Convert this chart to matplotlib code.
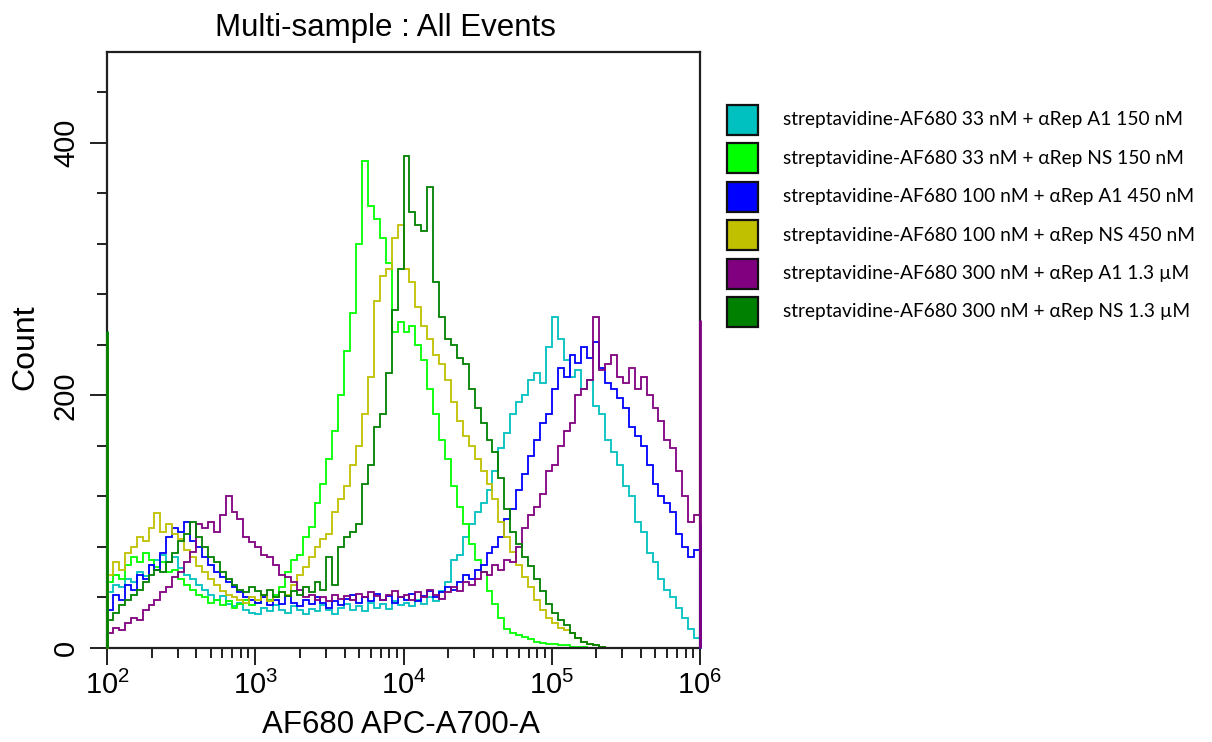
import numpy as np
import matplotlib
matplotlib.use("Agg")
import matplotlib.pyplot as plt
from matplotlib.ticker import FixedLocator, MultipleLocator, FuncFormatter, LogLocator, NullFormatter
from matplotlib.patches import Rectangle

plt.rcParams['font.family'] = ['Liberation Sans', 'DejaVu Sans']
plt.rcParams['mathtext.fontset'] = 'custom'
plt.rcParams['mathtext.rm'] = 'Liberation Sans'
plt.rcParams['mathtext.it'] = 'Liberation Sans'
plt.rcParams['mathtext.default'] = 'regular'

# ---------------- data ----------------
title = "Multi-sample : All Events"
x_label = "AF680 APC-A700-A"
y_label = "Count"

labels = [
    "streptavidine-AF680 33 nM + \u03b1Rep A1 150 nM",
    "streptavidine-AF680 33 nM + \u03b1Rep NS 150 nM",
    "streptavidine-AF680 100 nM + \u03b1Rep A1 450 nM",
    "streptavidine-AF680 100 nM + \u03b1Rep NS 450 nM",
    "streptavidine-AF680 300 nM + \u03b1Rep A1 1.3 \u00b5M",
    "streptavidine-AF680 300 nM + \u03b1Rep NS 1.3 \u00b5M",
]
colors = ["#00c0c0", "#00ff00", "#0000ff", "#c0c000", "#800080", "#008000"]

# histogram counts, 25 bins per decade from 1e2 to 1e6
cyan_a1_33 = [44, 50, 48, 55, 52, 60, 57, 66, 70, 74, 68, 72, 63, 58, 55, 50, 46, 42, 38, 41, 35, 33, 36, 30, 28,
              27, 32, 29, 34, 30, 28, 33, 30, 27, 31, 29, 34, 30, 27, 32, 35, 30, 33, 29, 36, 32, 35, 31, 37, 34,
              36, 33, 38, 35, 40, 37, 45, 52, 70, 74, 88, 98, 108, 115, 125, 140, 158, 170, 185, 195, 200, 212, 218, 210, 238,
              262, 245, 228, 215, 220, 205, 212, 192, 185, 165, 155, 145, 128, 120, 100, 92, 75, 68, 55, 46, 40, 32, 24, 15, 8]
lime_ns_33 = [52, 58, 55, 66, 72, 68, 75, 70, 64, 68, 60, 62, 55, 50, 46, 42, 40, 36, 38, 34, 37, 32, 35, 38, 34,
              36, 40, 38, 42, 48, 60, 70, 74, 88, 96, 115, 130, 150, 172, 200, 235, 265, 320, 386, 350, 340, 325, 305, 250, 258,
              250, 255, 240, 228, 205, 185, 165, 150, 128, 112, 98, 82, 70, 60, 45, 35, 24, 15, 12, 10, 9, 7, 5, 4, 3,
              3, 2, 2, 1, 1, 1, 0, 0, 0, 0, 0, 0, 0, 0, 0, 0, 0, 0, 0, 0, 0, 0, 0, 0, 0]
blue_a1_100 = [30, 42, 38, 50, 46, 58, 55, 66, 62, 75, 88, 95, 92, 100, 85, 80, 72, 66, 60, 56, 52, 48, 44, 40, 38,
               36, 40, 34, 38, 35, 41, 36, 33, 38, 35, 40, 36, 32, 37, 34, 39, 42, 36, 40, 37, 43, 38, 41, 36, 40,
               38, 43, 37, 41, 45, 40, 44, 48, 46, 52, 58, 55, 62, 66, 75, 80, 88, 102, 110, 125, 138, 152, 165, 178, 185,
               205, 222, 215, 232, 226, 238, 230, 242, 222, 210, 205, 198, 190, 175, 168, 160, 145, 130, 120, 115, 108, 90, 80, 72, 78]
yellow_ns_100 = [58, 68, 62, 75, 80, 88, 85, 95, 107, 92, 98, 90, 86, 78, 72, 65, 60, 55, 50, 45, 42, 40, 38, 36, 40,
                 38, 42, 37, 40, 44, 42, 50, 58, 64, 72, 80, 86, 90, 108, 118, 128, 145, 160, 185, 215, 275, 295, 300, 325, 335,
                 300, 290, 270, 255, 245, 232, 225, 212, 195, 180, 168, 160, 150, 140, 130, 118, 100, 88, 76, 66, 56, 48, 38, 30, 24,
                 20, 16, 14, 12, 8, 5, 3, 2, 1, 0, 0, 0, 0, 0, 0, 0, 0, 0, 0, 0, 0, 0, 0, 0, 0]
purple_a1_300 = [12, 16, 14, 20, 24, 22, 30, 34, 38, 44, 48, 56, 60, 68, 76, 98, 95, 100, 92, 105, 120, 108, 102, 88, 84,
                 80, 74, 72, 66, 58, 56, 52, 46, 40, 42, 38, 40, 37, 42, 39, 41, 38, 43, 40, 44, 41, 38, 42, 45, 40,
                 42, 38, 44, 40, 46, 42, 39, 44, 48, 45, 52, 50, 55, 60, 58, 66, 62, 70, 68, 80, 95, 105, 112, 122, 140,
                 145, 160, 172, 178, 200, 205, 212, 262, 220, 225, 232, 215, 210, 222, 205, 215, 200, 190, 180, 165, 158, 140, 120, 100, 105]
green_ns_300 = [22, 28, 34, 38, 42, 46, 52, 58, 62, 60, 68, 75, 85, 90, 100, 88, 80, 72, 68, 60, 55, 50, 46, 44, 48,
                45, 42, 46, 40, 44, 41, 45, 42, 48, 44, 52, 46, 72, 50, 80, 88, 92, 98, 130, 145, 175, 185, 218, 268, 300,
                390, 345, 335, 330, 365, 290, 262, 245, 240, 230, 225, 205, 190, 178, 165, 155, 135, 110, 92, 82, 72, 65, 55, 45, 35,
                28, 22, 18, 12, 8, 5, 3, 2, 1, 0, 0, 0, 0, 0, 0, 0, 0, 0, 0, 0, 0, 0, 0, 0, 0]

# off-scale events piled at the axis limits
low_edge_counts = [0, 0, 0, 246, 0, 251]
high_edge_counts = [67, 0, 98, 0, 260, 0]

series = [cyan_a1_33, lime_ns_33, blue_a1_100, yellow_ns_100, purple_a1_300, green_ns_300]

x_min, x_max = 1e2, 1e6
bins_per_decade = 25
y_max = 472

# ---------------- figure ----------------
W, H = 1212, 742
fig = plt.figure(figsize=(W / 100, H / 100), dpi=100)
ax = fig.add_axes([107 / W, 1 - 648 / H, (700 - 107) / W, (648 - 52) / H])

n_dec = int(round(np.log10(x_max / x_min)))
edges = np.logspace(np.log10(x_min), np.log10(x_max), n_dec * bins_per_decade + 1)

for vals, c in zip(series, colors):
    ax.stairs(vals, edges, color=c, lw=1.3, baseline=None)
for lo, hi, c in zip(low_edge_counts, high_edge_counts, colors):
    if lo > 0:
        ax.vlines(edges[0] * 1.004, 0, lo, color=c, lw=2, zorder=3, clip_on=False)
    if hi > 0:
        ax.vlines(edges[-1] / 1.004, 0, hi, color=c, lw=2, zorder=3, clip_on=False)

ax.set_xscale('log')
ax.set_xlim(x_min, x_max)
ax.set_ylim(0, y_max)

ax.xaxis.set_major_locator(LogLocator(base=10, numticks=10))
ax.xaxis.set_minor_locator(LogLocator(base=10, subs=np.arange(2, 10), numticks=20))
ax.xaxis.set_minor_formatter(NullFormatter())
ax.xaxis.set_major_formatter(FuncFormatter(lambda v, p: r"$10^{%d}$" % int(round(np.log10(v)))))

ax.yaxis.set_major_locator(FixedLocator([0, 200, 400]))
ax.yaxis.set_minor_locator(MultipleLocator(40))

for s in ax.spines.values():
    s.set_linewidth(1.6)
    s.set_color('#202020')

ax.tick_params(axis='both', which='major', direction='out', length=12.5, width=1.4,
               labelsize=21, color='#202020')
ax.tick_params(axis='both', which='minor', direction='out', length=7, width=1.4, color='#202020')
ax.tick_params(axis='x', which='major', pad=4)
ax.tick_params(axis='y', which='major', pad=7, labelrotation=90)
for lab in ax.get_yticklabels():
    lab.set_va('center')

fig.text(385 / W, 1 - 28 / H, title, ha='center', va='center', fontsize=22.5)
fig.text(401 / W, 1 - 725 / H, x_label, ha='center', va='center', fontsize=22.5)
fig.text(25 / W, 1 - 347 / H, y_label, ha='center', va='center', rotation=90, fontsize=23)

# legend
row0, row_step = 120, 38.4
for i, (lab, c) in enumerate(zip(labels, colors)):
    yc = row0 + i * row_step
    fig.patches.append(Rectangle((727 / W, 1 - (yc + 15) / H), 31 / W, 30 / H,
                                 transform=fig.transFigure, facecolor=c,
                                 edgecolor='#111111', lw=1.6))
    fig.text(783 / W, 1 - yc / H, lab, ha='left', va='center', fontsize=13.8,
             family=['Lato', 'DejaVu Sans'])

fig.savefig("out.png", dpi=100)
